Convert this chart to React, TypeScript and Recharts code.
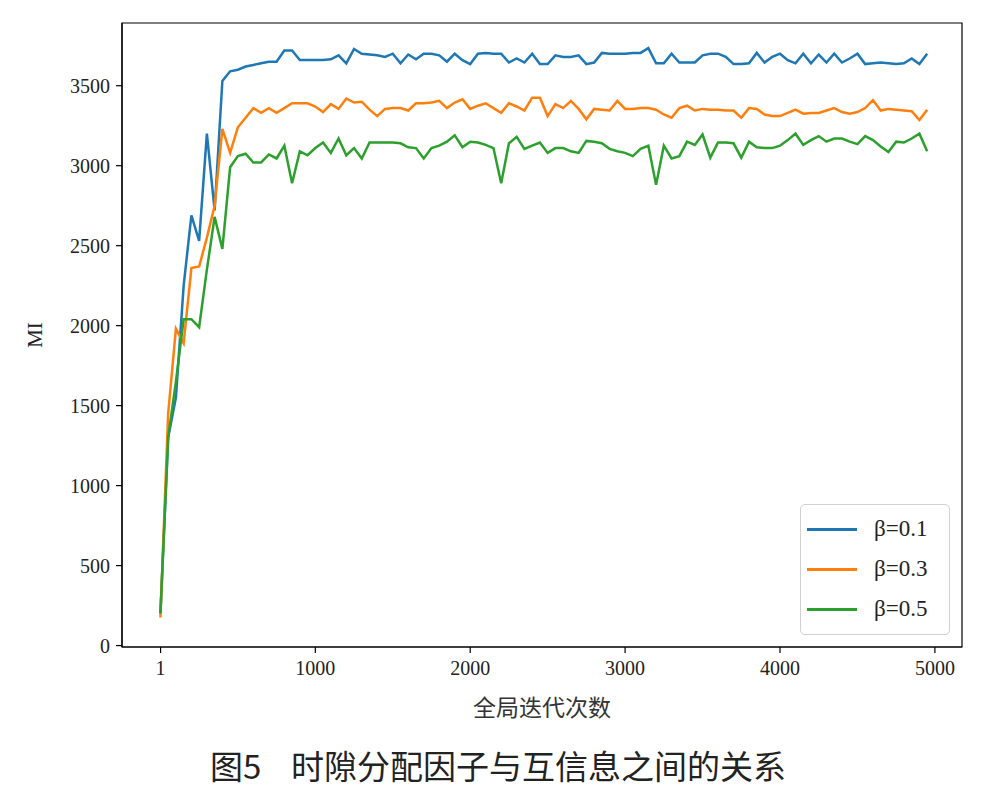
import React from "react";
import {
  LineChart,
  Line,
  XAxis,
  YAxis,
  Legend,
  ReferenceArea,
} from "recharts";

// global iteration grid (one sample every 50 iterations)
const ITERATIONS = Array.from({ length: 100 }, (_, i) => i * 50);

const X_TICKS = [1, 1000, 2000, 3000, 4000, 5000];
const Y_TICKS = [0, 500, 1000, 1500, 2000, 2500, 3000, 3500];

const SERIES_NAMES = ["β=0.1", "β=0.3", "β=0.5"];
const SERIES_COLORS = ["#1f77b4", "#ff7f0e", "#2ca02c"];

const MI_BETA_01 = [
  200, 1300, 1550, 2250, 2690, 2530, 3200, 2720, 3530, 3590,
  3600, 3620, 3630, 3640, 3650, 3650, 3720, 3720, 3660, 3660,
  3660, 3660, 3665, 3690, 3640, 3730, 3700, 3695, 3690, 3680,
  3700, 3640, 3695, 3665, 3700, 3700, 3690, 3650, 3700, 3660,
  3635, 3700, 3705, 3700, 3700, 3645, 3670, 3645, 3700, 3635,
  3635, 3690, 3680, 3680, 3690, 3635, 3645, 3705, 3700, 3700,
  3700, 3705, 3705, 3735, 3640, 3640, 3700, 3645, 3645, 3645,
  3690, 3700, 3700, 3680, 3635, 3635, 3640, 3705, 3645, 3680,
  3700, 3660, 3640, 3700, 3640, 3695, 3645, 3700, 3645, 3670,
  3700, 3635, 3640, 3645, 3640, 3635, 3640, 3670, 3635, 3700,
];

const MI_BETA_03 = [
  175, 1450, 1980, 1890, 2360, 2370, 2550, 2750, 3230, 3080,
  3240, 3300, 3360, 3330, 3360, 3330, 3360, 3390, 3390, 3390,
  3370, 3335, 3385, 3355, 3420, 3395, 3400, 3350, 3310, 3355,
  3360, 3360, 3345, 3390, 3390, 3395, 3405, 3360, 3395, 3415,
  3355, 3375, 3390, 3360, 3330, 3390, 3370, 3345, 3425, 3425,
  3310, 3385, 3360, 3405, 3355, 3290, 3355, 3350, 3345, 3405,
  3355, 3355, 3360, 3360, 3350, 3320, 3300, 3360, 3375, 3345,
  3355, 3350, 3350, 3345, 3345, 3300, 3360, 3355, 3320, 3310,
  3310, 3330, 3350, 3325, 3330, 3330, 3345, 3360, 3335, 3325,
  3335, 3360, 3410, 3345, 3355, 3350, 3345, 3340, 3285, 3350,
];

const MI_BETA_05 = [
  200, 1300, 1650, 2040, 2040, 1990, 2350, 2680, 2480, 2990,
  3060, 3075, 3020, 3020, 3070, 3045, 3125, 2890, 3090, 3065,
  3110, 3145, 3080, 3170, 3065, 3110, 3045, 3145, 3145, 3145,
  3145, 3140, 3115, 3110, 3045, 3110, 3125, 3150, 3190, 3115,
  3150, 3145, 3130, 3110, 2890, 3140, 3180, 3105, 3125, 3145,
  3080, 3110, 3110, 3090, 3080, 3155, 3150, 3140, 3105, 3090,
  3080, 3060, 3105, 3125, 2880, 3125, 3045, 3060, 3150, 3130,
  3195, 3050, 3145, 3145, 3140, 3050, 3150, 3115, 3110, 3110,
  3125, 3160, 3200, 3130, 3160, 3185, 3150, 3170, 3170, 3150,
  3135, 3185, 3160, 3120, 3085, 3150, 3145, 3170, 3200, 3090,
];

const X_DOMAIN: [number, number] = [-248, 5175];
const Y_DOMAIN: [number, number] = [-9, 3892];

const SERIF = '"Liberation Serif", "DejaVu Serif", serif';
const CJK = '"Noto Sans CJK SC", sans-serif';

const rows = ITERATIONS.map((it, i) => ({
  it,
  b1: MI_BETA_01[i],
  b3: MI_BETA_03[i],
  b5: MI_BETA_05[i],
}));

function LegendBox({ payload }: any) {
  return (
    <div
      style={{
        border: "1px solid #d0d0d0",
        borderRadius: 5,
        background: "#fff",
        boxSizing: "border-box",
        width: 150,
        height: 131,
        padding: "4px 0 0 6px",
      }}
    >
      {(payload || []).map((entry: any) => (
        <div
          key={entry.value}
          style={{ display: "flex", alignItems: "center", height: 40 }}
        >
          <div
            style={{
              width: 50,
              height: 3,
              background: entry.color,
              marginRight: 17,
            }}
          />
          <span
            style={{ fontFamily: SERIF, fontSize: 23, color: "#222" }}
          >
            {entry.value}
          </span>
        </div>
      ))}
    </div>
  );
}

export default function App() {
  const keys = ["b1", "b3", "b5"];
  return (
    <div
      style={{
        position: "absolute",
        left: 0,
        top: 0,
        width: 1008,
        height: 794,
        background: "#fff",
      }}
    >
      <LineChart
        width={1008}
        height={794}
        data={rows}
        margin={{ top: 23, right: 46, left: 62, bottom: 117 }}
      >
        <XAxis
          dataKey="it"
          type="number"
          domain={X_DOMAIN}
          ticks={X_TICKS}
          allowDataOverflow
          interval={0}
          height={30}
          tickSize={6}
          tickMargin={8}
          axisLine={{ stroke: "#000", strokeWidth: 1.2 }}
          tickLine={{ stroke: "#000", strokeWidth: 1.2 }}
          tick={{ fill: "#222", fontSize: 20, fontFamily: SERIF }}
        />
        <YAxis
          type="number"
          domain={Y_DOMAIN}
          ticks={Y_TICKS}
          allowDataOverflow
          interval={0}
          width={60}
          tickSize={6}
          tickMargin={6}
          axisLine={{ stroke: "#000", strokeWidth: 1.2 }}
          tickLine={{ stroke: "#000", strokeWidth: 1.2 }}
          tick={{ fill: "#222", fontSize: 20, fontFamily: SERIF }}
        />
        <ReferenceArea
          x1={X_DOMAIN[0]}
          x2={X_DOMAIN[1]}
          y1={Y_DOMAIN[0]}
          y2={Y_DOMAIN[1]}
          fill="none"
          stroke="#000"
          strokeWidth={1.2}
        />
        {keys.map((k, i) => (
          <Line
            key={k}
            type="linear"
            dataKey={k}
            name={SERIES_NAMES[i]}
            stroke={SERIES_COLORS[i]}
            strokeWidth={2.5}
            dot={false}
            isAnimationActive={false}
          />
        ))}
        <Legend
          layout="vertical"
          align="center"
          verticalAlign="middle"
          content={<LegendBox />}
          wrapperStyle={{ left: 800, top: 504, width: 150, height: 131 }}
        />
      </LineChart>

      <div
        style={{
          position: "absolute",
          left: 35,
          top: 335,
          transform: "translate(-50%, -50%) rotate(-90deg)",
          fontFamily: SERIF,
          fontSize: 21,
          color: "#222",
        }}
      >
        MI
      </div>
      <div
        style={{
          position: "absolute",
          left: 542,
          top: 706,
          transform: "translate(-50%, -50%)",
          fontFamily: CJK,
          fontSize: 23,
          color: "#333",
          whiteSpace: "nowrap",
        }}
      >
        全局迭代次数
      </div>
      <div
        style={{
          position: "absolute",
          left: 498,
          top: 765,
          transform: "translate(-50%, -50%)",
          fontFamily: CJK,
          fontSize: 33,
          color: "#222",
          whiteSpace: "nowrap",
        }}
      >
        图5&nbsp;&nbsp;&nbsp;&nbsp;时隙分配因子与互信息之间的关系
      </div>
    </div>
  );
}
